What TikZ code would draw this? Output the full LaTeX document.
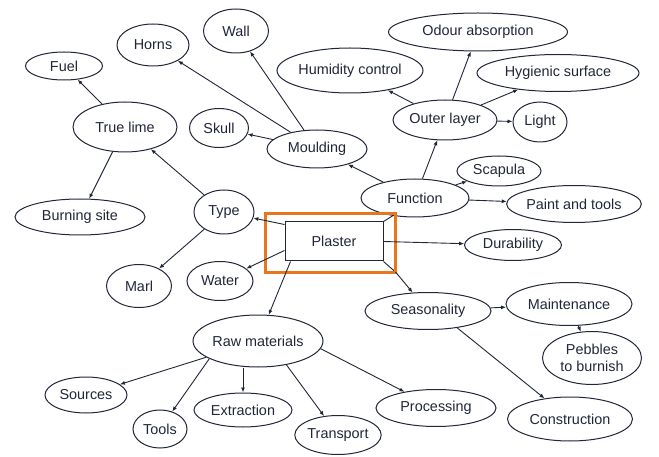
\documentclass[tikz,border=0pt]{standalone}
\usepackage{fontspec}
\setmainfont{Liberation Sans}
\usetikzlibrary{shapes.geometric,arrows.meta,calc}
\definecolor{ink}{RGB}{32,38,56}
\definecolor{hl}{RGB}{232,118,30}
\tikzset{
  ell/.style={draw=ink, ellipse, line width=1pt, inner sep=0pt, text=ink,
    font=\fontsize{14.4}{17}\selectfont, align=center},
  arr/.style={draw=ink, line width=0.9pt, -{Latex[length=5pt,width=4pt]}},
  ln/.style={draw=ink, line width=0.9pt}
}
\begin{document}
\begin{tikzpicture}[x=1pt,y=-1pt]
\useasboundingbox (0,0) rectangle (659,457);
% nodes
\node[ell, minimum width=77, minimum height=28] (fuel) at (64,66) {Fuel};
\node[ell, minimum width=72, minimum height=42] (horns) at (153,45) {Horns};
\node[ell, minimum width=65, minimum height=44] (wall) at (236,31) {Wall};
\node[ell, minimum width=104, minimum height=50] (tl) at (125,127) {True lime};
\node[ell, minimum width=59, minimum height=39] (skull) at (219,128) {Skull};
\node[ell, minimum width=100, minimum height=38] (mould) at (317,149) {Moulding};
\node[ell, minimum width=130, minimum height=36] (burn) at (80,217) {Burning site};
\node[ell, minimum width=60, minimum height=44] (type) at (224,212) {Type};
\node[ell, minimum width=144, minimum height=45] (hum) at (350,70.5) {Humidity control};
\node[ell, minimum width=179, minimum height=38] (odour) at (478,32) {Odour absorption};
\node[ell, minimum width=162, minimum height=37] (hyg) at (558,73) {Hygienic surface};
\node[ell, minimum width=104, minimum height=40] (outer) at (445,120) {Outer layer};
\node[ell, minimum width=54, minimum height=40] (light) at (540,122) {Light};
\node[ell, minimum width=108, minimum height=38] (func) at (415,198) {Function};
\node[ell, minimum width=84, minimum height=30] (scap) at (499,171) {Scapula};
\node[ell, minimum width=125, minimum height=37] (paint) at (574,204) {Paint and tools};
\node[ell, minimum width=97, minimum height=31] (dur) at (513,245) {Durability};
\node[ell, minimum width=126, minimum height=37] (seas) at (428,311) {Seasonality};
\node[ell, minimum width=126, minimum height=43] (maint) at (569,304) {Maintenance};
\node[ell, minimum width=99, minimum height=53] (peb) at (592,358) {Pebbles\\to burnish};
\node[ell, minimum width=120, minimum height=37] (proc) at (436,408) {Processing};
\node[ell, minimum width=125, minimum height=44] (cons) at (570,419) {Construction};
\node[ell, minimum width=65, minimum height=43] (marl) at (139,286) {Marl};
\node[ell, minimum width=66, minimum height=39] (water) at (220,281) {Water};
\node[ell, minimum width=130, minimum height=52] (raw) at (258,341) {Raw materials};
\node[ell, minimum width=82, minimum height=36] (src) at (86,395) {Sources};
\node[ell, minimum width=54, minimum height=38] (tools) at (160,429) {Tools};
\node[ell, minimum width=98, minimum height=34] (ext) at (243,410) {Extraction};
\node[ell, minimum width=86, minimum height=39] (trans) at (338,435) {Transport};
% plaster box
\node[draw=ink, line width=1pt, minimum width=98, minimum height=39, inner sep=0pt,
  text=ink, font=\fontsize{14.4}{17}\selectfont] (pl) at (334,241.5) {Plaster};
\coordinate (bTR) at (395.5,214);
\coordinate (bBR) at (395.5,272);
\draw[ln] (pl.north east) -- (bTR);
\draw[ln] (pl.south east) -- (bBR);
\draw[hl, line width=2.6pt] (265.5,213.5) rectangle (395.5,272.5);
% edges
\draw[arr] (tl) -- (fuel);
\draw[arr] (tl) -- (burn);
\draw[arr] (type) -- (tl);
\draw[arr] (type) -- (marl);
\draw[arr] ($(pl.north west)+(0,3)$) -- (type);
\draw[arr] ($(pl.south west)+(0,-11)$) -- (water);
\draw[arr] ($(pl.south west)+(6,0)$) -- (raw);
\draw[arr] (pl.east) -- (dur);
\draw[arr] (bBR) -- (seas);
\draw[arr] (raw) -- (src);
\draw[arr] (raw.200) -- (tools);
\draw[arr] (raw.south -| ext.north) -- (ext.north);
\draw[arr] (raw.-40) -- (trans);
\draw[arr] (raw.-7) -- (proc);
\draw[arr] (seas) -- (maint);
\draw[arr] (seas.-30) -- (cons);
\draw[arr] (maint) -- (peb);
\draw[arr] (func) -- (mould);
\draw[arr] (func) -- (outer);
\draw[arr] (func) -- (scap);
\draw[arr] (func) -- (paint);
\draw[arr] (mould) -- (skull);
\draw[arr] (mould) -- (horns);
\draw[arr] (mould) -- (wall);
\draw[arr] (outer) -- (hum);
\draw[arr] (outer) -- (odour);
\draw[arr] (outer) -- (hyg);
\draw[arr] (outer) -- (light);
\end{tikzpicture}
\end{document}
